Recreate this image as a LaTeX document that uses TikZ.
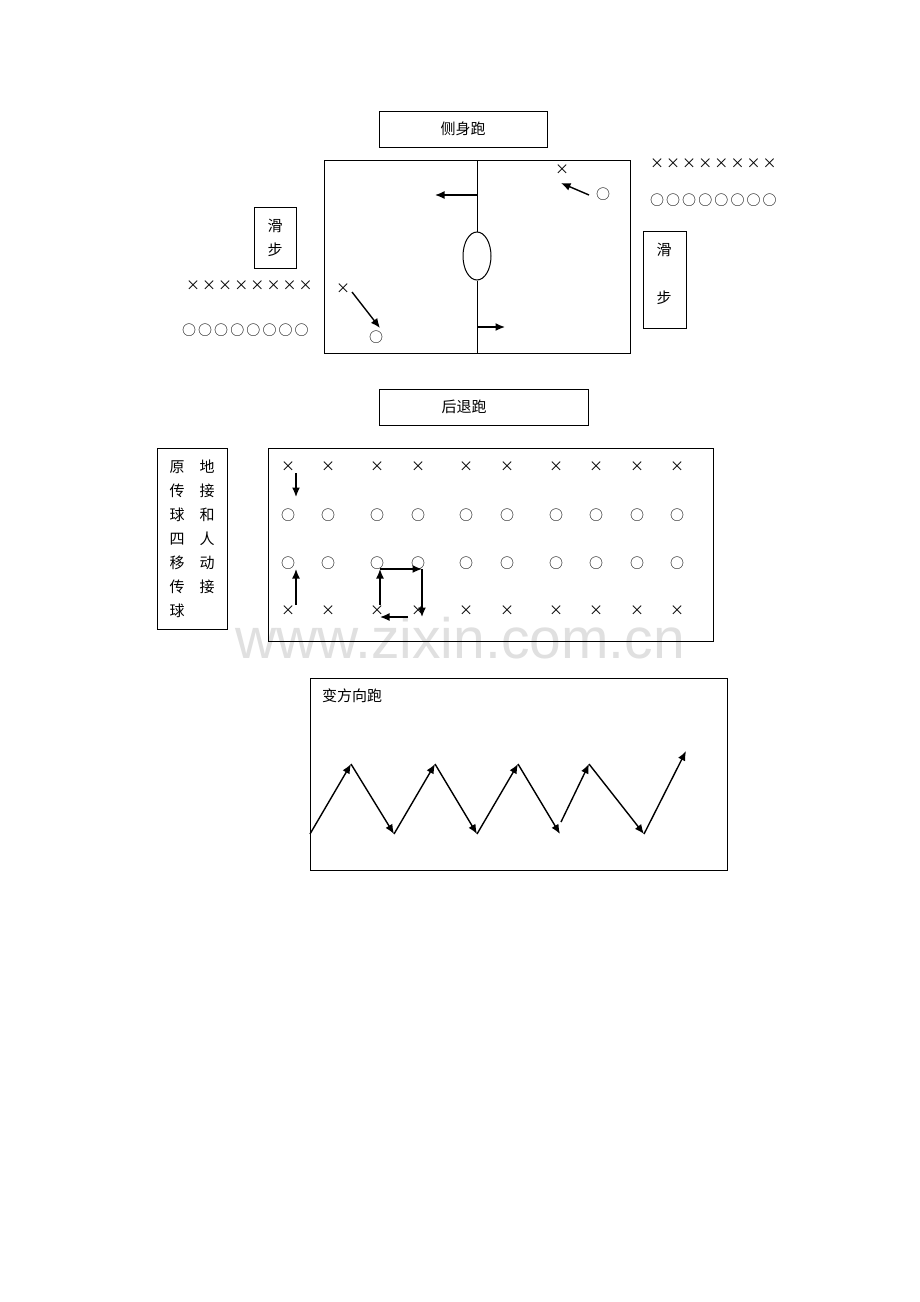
\documentclass[tikz,border=0pt]{standalone}
\usepackage{fontspec}
\newfontfamily\cjk{Noto Sans CJK SC}
\setmainfont{Liberation Sans}
\usetikzlibrary{arrows.meta,shapes.geometric}
\begin{document}
\begin{tikzpicture}[x=1pt,y=-1pt,
  box/.style={draw,line width=1pt,inner sep=0pt},
  lbl/.style={font=\cjk\fontsize{15}{18}\selectfont,inner sep=0pt},
  sym/.style={font=\cjk\fontsize{14}{16}\selectfont,inner sep=0pt},
  arr/.style={line width=1.4pt,-{Latex[length=9.5pt,width=8pt]}},
]
\useasboundingbox[fill=white] (0,0) rectangle (920,1302);

% watermark
\node[font=\fontsize{57}{60}\selectfont,text=black!12,inner sep=0pt] (wm) at (460,638) {www.zixin.com.cn};

% ---------- top section ----------
\node[box,minimum width=168pt,minimum height=36pt] (t1) at (463,129) {};
\node[lbl] (t1t) at (t1.center) {侧身跑};

\draw[line width=1pt] (324,160) rectangle (630,353);
\coordinate (ctop) at (477,160);
\coordinate (cbot) at (477,353);
\node[draw,ellipse,line width=1pt,minimum width=28pt,minimum height=48pt,inner sep=0pt] (ball) at (477,256) {};
\draw[line width=1pt] (ctop) -- (ball.north);
\draw[line width=1pt] (ball.south) -- (cbot);

\coordinate (a1s) at (477,195);
\coordinate (a1e) at (435,195);
\draw[arr] (a1s) -- (a1e);
\coordinate (a2s) at (477,327);
\coordinate (a2e) at (505,327);
\draw[arr] (a2s) -- (a2e);

\node[sym] (x1) at (562,170) {×};
\node[sym] (o1) at (603,194) {○};
\coordinate (a3s) at (589,195);
\coordinate (a3e) at (561,183);
\draw[arr] (a3s) -- (a3e);

\node[sym] (x2) at (343,289) {×};
\node[sym] (o2) at (376,337) {○};
\coordinate (a4s) at (352,292);
\coordinate (a4e) at (380,328);
\draw[arr] (a4s) -- (a4e);

% left slide box
\node[box,minimum width=42pt,minimum height=61pt] (lb) at (275,237.5) {};
\node[lbl] (lb1) at (275,226) {滑};
\node[lbl] (lb2) at (275,250) {步};
% right slide box
\node[box,minimum width=43pt,minimum height=97pt] (rb) at (664.5,279.5) {};
\node[lbl] (rb1) at (664,250) {滑};
\node[lbl] (rb2) at (664,298) {步};

% rows of players
\foreach \i in {0,...,7} {
  \node[sym] (rx\i) at (657+\i*16.1,164) {×};
  \node[sym] (ro\i) at (657+\i*16.1,200) {○};
  \node[sym] (lx\i) at (193+\i*16.1,286) {×};
  \node[sym] (lo\i) at (189+\i*16.1,330) {○};
}

% ---------- middle section ----------
\node[box,minimum width=209pt,minimum height=36pt] (t2) at (483.5,407) {};
\node[lbl] (t2t) at (464,407) {后退跑};

\node[box,minimum width=70pt,minimum height=181pt] (mb) at (192,538.5) {};
\foreach \c [count=\k from 0] in {原,传,球,四,移,传,球} {
  \node[lbl] (ml\k) at (177,467+\k*24) {\c};
}
\foreach \c [count=\k from 0] in {地,接,和,人,动,接} {
  \node[lbl] (mr\k) at (207,467+\k*24) {\c};
}

\draw[line width=1pt] (268,448) rectangle (713,641);
\foreach \xx [count=\k] in {288,328,377,418,466,507,556,596,637,677} {
  \node[sym] (gx\k a) at (\xx,467) {×};
  \node[sym] (go\k a) at (\xx,515) {○};
  \node[sym] (go\k b) at (\xx,563) {○};
  \node[sym] (gx\k b) at (\xx,611) {×};
}
\coordinate (b1s) at (296,473);
\coordinate (b1e) at (296,497);
\draw[arr] (b1s) -- (b1e);
\coordinate (b2s) at (296,605);
\coordinate (b2e) at (296,569);
\draw[arr] (b2s) -- (b2e);
\coordinate (s1) at (380,605);
\coordinate (s2) at (380,569);
\coordinate (s3) at (422,569);
\coordinate (s4) at (422,617);
\coordinate (s5) at (408,617);
\coordinate (s6) at (380,617);
\draw[arr] (s1) -- (s2);
\draw[arr] (s2) -- (s3);
\draw[arr] (s3) -- (s4);
\draw[arr] (s5) -- (s6);

% ---------- bottom section ----------
\draw[line width=1pt] (310,678) rectangle (727,870);
\node[lbl,anchor=west] (t3) at (322,696) {变方向跑};
\coordinate (z0) at (310,834);
\coordinate (z1) at (351,764);
\coordinate (z2) at (394,834);
\coordinate (z3) at (435,764);
\coordinate (z4) at (477,834);
\coordinate (z5) at (518,764);
\coordinate (z6) at (560,834);
\coordinate (z6b) at (561,822);
\coordinate (z7) at (589,764);
\coordinate (z8) at (644,834);
\coordinate (z9) at (686,751);
\draw[arr] (z0) -- (z1);
\draw[arr] (z1) -- (z2);
\draw[arr] (z2) -- (z3);
\draw[arr] (z3) -- (z4);
\draw[arr] (z4) -- (z5);
\draw[arr] (z5) -- (z6);
\draw[arr] (z6b) -- (z7);
\draw[arr] (z7) -- (z8);
\draw[arr] (z8) -- (z9);
\end{tikzpicture}
\end{document}
